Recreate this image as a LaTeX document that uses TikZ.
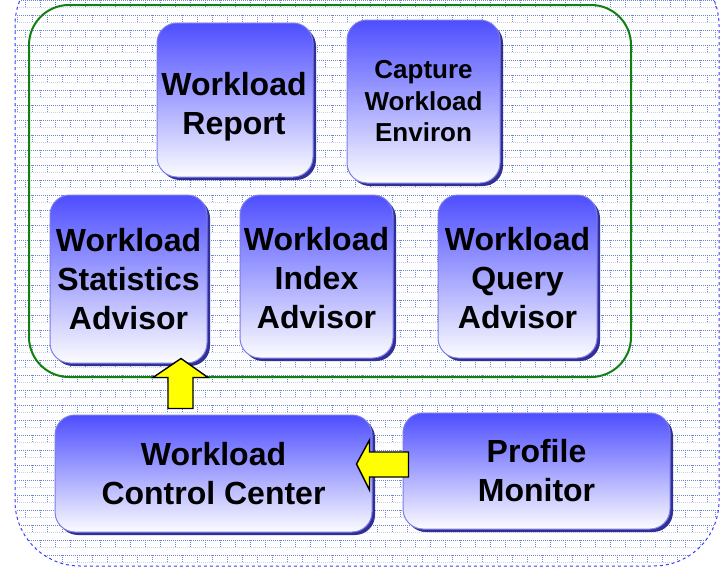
\documentclass[tikz,border=0pt]{standalone}
\usepackage{fontspec}
\setmainfont{Liberation Sans}
\usetikzlibrary{shadows}
\definecolor{boxtop}{RGB}{78,78,255}
\definecolor{boxbot}{RGB}{252,252,255}
\definecolor{boxedge}{RGB}{125,125,235}
\definecolor{boxshadow}{RGB}{48,48,150}
\definecolor{greenline}{RGB}{16,128,16}
\definecolor{dashblue}{RGB}{60,60,255}
\definecolor{gridA}{RGB}{105,135,210}
\definecolor{gridB}{RGB}{200,210,240}
\definecolor{arrowyellow}{RGB}{255,255,0}
\tikzset{
  box/.style={rounded corners=20pt, draw=boxedge, line width=1pt,
    top color=boxtop, bottom color=boxbot, inner sep=0pt, align=center,
    font=\bfseries\fontsize{32}{39}\selectfont,
    drop shadow={shadow xshift=3pt, shadow yshift=-3pt, fill=boxshadow, opacity=1}},
  smallbox/.style={box, font=\bfseries\fontsize{26}{31.5}\selectfont},
  boxtext/.style={inner sep=0pt, align=center, font=\bfseries\fontsize{32}{39}\selectfont},
  blockarrow/.style={fill=arrowyellow, draw=black, line width=1.4pt, line join=miter},
  hgrid/.style={gridA, line width=0.6pt, dash pattern=on 0.6pt off 1.4pt},
  hgridl/.style={gridB, line width=0.6pt, dash pattern=on 0.6pt off 1.4pt},
  vgrid/.style={gridA, line width=0.7pt, dash pattern=on 0.7pt off 1.3pt},
}
\begin{document}
\begin{tikzpicture}[x=1pt,y=-1pt]
\useasboundingbox (0,0) rectangle (720,568);
% background with texture
\begin{scope}
  \clip[rounded corners=65pt] (15,-40) rectangle (719,566);
  \fill[white] (15,-40) rectangle (719,566);
  \foreach \r in {0,...,38} {
    \draw[hgrid] (15,{15*\r}) -- (719,{15*\r});
    \draw[hgridl] (15,{15*\r+7.5}) -- (719,{15*\r+7.5});
    \pgfmathsetmacro\off{mod(\r,2)*7.5}
    \draw[vgrid] \foreach \c in {0,...,47} {({\off+15*\c+10},{15*\r}) -- ++(0,7.5)};
  }
\end{scope}
\draw[dashblue, line width=1pt, dashed, rounded corners=65pt] (15,-40) rectangle (719,566);
% green group
\draw[greenline, line width=2pt, rounded corners=40pt] (29,5) rectangle (631,377);
% boxes
\node[box, minimum width=156pt, minimum height=154pt] (report) at (235,100) {};
\node[boxtext] (reporttext) at ([xshift=-1pt,yshift=-7pt]report.center) {Workload\\Report};
\node[smallbox, minimum width=153pt, minimum height=163pt] (capture) at (423.5,101.5) {Capture\\Workload\\Environ};
\node[box, minimum width=157pt, minimum height=168pt] (stat) at (128.5,279) {Workload\\Statistics\\Advisor};
\node[box, minimum width=153pt, minimum height=163pt] (index) at (316.5,276.5) {};
\node[boxtext] (indextext) at ([yshift=-2pt]index.center) {Workload\\Index\\Advisor};
\node[box, minimum width=159pt, minimum height=163pt] (query) at (517.5,276.5) {};
\node[boxtext] (querytext) at ([yshift=-2pt]query.center) {Workload\\Query\\Advisor};
\node[box, minimum width=317pt, minimum height=117pt] (ctrl) at (213.5,473.5) {Workload\\Control Center};
\node[box, minimum width=267pt, minimum height=116pt] (profile) at (536.5,471) {Profile\\Monitor};
% block arrows
\coordinate (uptip) at (stat.south -| 181,0);
\coordinate (lefttip) at (ctrl.east |- 0,464);
\draw[blockarrow] ([yshift=5pt]uptip) -- ++(27,19) -- ++(-15,0) -- ++(0,31) -- ++(-25,0) -- ++(0,-31) -- ++(-15,0) -- cycle;
\draw[blockarrow] ([xshift=-16pt]lefttip) -- ++(13,-24) -- ++(0,12) -- ++(39,0) -- ++(0,25) -- ++(-39,0) -- ++(0,13) -- cycle;
\end{tikzpicture}
\end{document}
